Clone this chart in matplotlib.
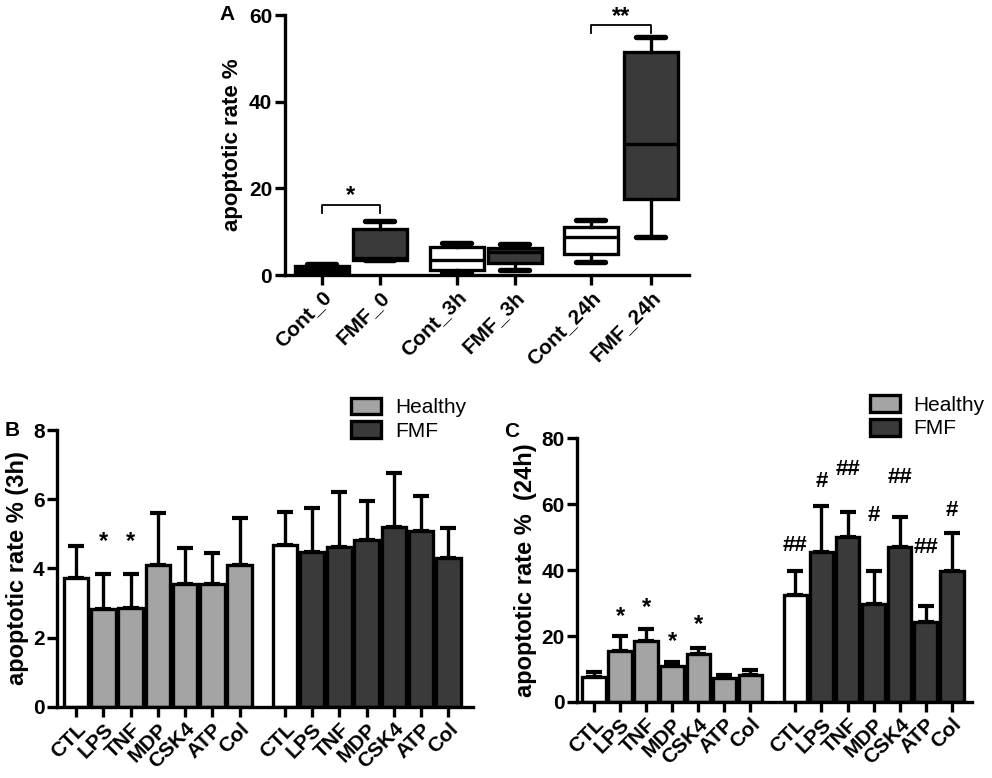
import matplotlib
matplotlib.use("Agg")
import matplotlib.pyplot as plt
from matplotlib.patches import Patch
import numpy as np

plt.rcParams['font.family'] = ['Liberation Sans', 'DejaVu Sans']

# ---------------- data ----------------
box_labels = ["Cont_0", "FMF_0", "Cont_3h", "FMF_3h", "Cont_24h", "FMF_24h"]
box_whislo = [0.5, 3.5, 0.8, 1.2, 3.1, 8.7]
box_q1 = [0.8, 3.5, 1.1, 2.8, 4.8, 17.5]
box_med = [1.4, 4.0, 3.4, 5.3, 8.7, 30.2]
box_q3 = [2.0, 10.6, 6.5, 6.3, 11.2, 51.5]
box_whishi = [2.5, 12.5, 7.5, 7.1, 12.7, 55.0]

treatments = ["CTL", "LPS", "TNF", "MDP", "CSK4", "ATP", "Col"]

b_healthy_mean = [3.73, 2.82, 2.87, 4.10, 3.54, 3.55, 4.10]
b_healthy_sem = [0.93, 1.03, 0.98, 1.50, 1.06, 0.90, 1.37]
b_fmf_mean = [4.68, 4.48, 4.62, 4.83, 5.20, 5.09, 4.30]
b_fmf_sem = [0.96, 1.28, 1.60, 1.12, 1.57, 1.00, 0.88]
b_healthy_sig = ["", "*", "*", "", "", "", ""]

c_healthy_mean = [7.6, 15.6, 18.4, 10.8, 14.5, 7.4, 8.2]
c_healthy_sem = [1.5, 4.4, 3.6, 1.4, 1.8, 0.9, 1.5]
c_fmf_mean = [32.4, 45.6, 50.1, 29.6, 46.9, 24.3, 39.6]
c_fmf_sem = [7.2, 13.8, 7.5, 10.0, 9.2, 4.8, 11.8]
c_healthy_sig = ["", "*", "*", "*", "*", "", ""]
c_fmf_sig = ["##", "#", "##", "#", "##", "##", "#"]

# ---------------- style ----------------
WHITE = "#ffffff"
GRAY = "#a4a4a4"
DARK = "#3a3a3a"
LW = 2.4
TICKFS = 15
XTICKFS = 15

fig = plt.figure(figsize=(9.92, 7.78), dpi=100)
fig.patch.set_facecolor("white")


def style_axes(ax):
    for s in ["top", "right"]:
        ax.spines[s].set_visible(False)
    for s in ["left", "bottom"]:
        ax.spines[s].set_linewidth(LW)
    ax.tick_params(axis="both", direction="out", length=7, width=LW,
                   labelsize=TICKFS, pad=2)
    for lab in ax.get_yticklabels():
        lab.set_fontweight("bold")


# ---------------- Panel A ----------------
axA = fig.add_axes([0.287, 0.6465, 0.408, 0.334])
posA = [1, 2, 3.33, 4.33, 5.64, 6.67]
stats = []
for i, lab in enumerate(box_labels):
    stats.append(dict(label=lab, whislo=box_whislo[i], q1=box_q1[i],
                      med=box_med[i], q3=box_q3[i], whishi=box_whishi[i],
                      fliers=[]))
bp = axA.bxp(stats, positions=posA, widths=0.93, capwidths=0.5,
             patch_artist=True, showfliers=False,
             boxprops=dict(linewidth=LW, edgecolor="black"),
             medianprops=dict(linewidth=LW, color="black"),
             whiskerprops=dict(linewidth=LW, color="black"),
             capprops=dict(linewidth=LW + 1.5, color="black", solid_capstyle="round"))
for i, patch in enumerate(bp["boxes"]):
    patch.set_facecolor(WHITE if box_labels[i].startswith("Cont") else DARK)
axA.set_xlim(0.36, 7.34)
axA.set_ylim(0, 60)
axA.set_yticks([0, 20, 40, 60])
style_axes(axA)
axA.set_xticks(posA)
axA.set_xticklabels(box_labels, rotation=45, ha="right", va="top",
                    rotation_mode="anchor", fontweight="bold", fontsize=XTICKFS)
axA.set_ylabel("apoptotic rate %", fontsize=16, fontweight="bold", labelpad=4)

# significance brackets
def bracket(ax, x1, x2, y, leg, txt, ty):
    ax.plot([x1, x1, x2, x2], [y - leg, y, y, y - leg], color="black",
            lw=1.3, clip_on=False)
    ax.text((x1 + x2) / 2, ty, txt, ha="center", va="center",
            fontsize=17, fontweight="bold", clip_on=False)

bracket(axA, posA[0], posA[1], 16.2, 1.9, "*", 18.3)
bracket(axA, posA[4], posA[5], 57.7, 1.8, "**", 59.8)
fig.text(0.229, 0.981, "A", fontsize=15, fontweight="bold", ha="center", va="center")


# ---------------- bar panels ----------------
def bar_panel(ax, h_mean, h_sem, f_mean, f_sem, offset, xlim, ylim, yticks,
              ylabel, light, dark):
    xh = np.arange(len(treatments), dtype=float)
    xf = xh + offset
    hcols = [WHITE] + [light] * (len(treatments) - 1)
    fcols = [WHITE] + [dark] * (len(treatments) - 1)
    for x, m, s, cols in [(xh, h_mean, h_sem, hcols), (xf, f_mean, f_sem, fcols)]:
        ax.errorbar(x, m, yerr=[np.zeros(len(m)), s], fmt="none", ecolor="black",
                    elinewidth=LW, capsize=6, capthick=LW + 0.6, zorder=1)
        ax.bar(x, m, width=0.9, color=cols, edgecolor="black", linewidth=LW,
               zorder=2)
    ax.set_xlim(*xlim)
    ax.set_ylim(*ylim)
    ax.set_yticks(yticks)
    style_axes(ax)
    ax.set_xticks(np.concatenate([xh, xf]))
    ax.set_xticklabels(treatments + treatments, rotation=45, ha="right",
                       va="top", rotation_mode="anchor", fontweight="bold",
                       fontsize=XTICKFS)
    ax.set_ylabel(ylabel, fontsize=17, fontweight="bold", labelpad=3)
    return xh, xf


axB = fig.add_axes([0.0575, 0.0913, 0.419, 0.356])
xhB, xfB = bar_panel(axB, b_healthy_mean, b_healthy_sem, b_fmf_mean, b_fmf_sem,
                     7.65, (-0.7, 14.54), (0, 8), [0, 2, 4, 6, 8],
                     "apoptotic rate % (3h)", GRAY, DARK)
for i, s in enumerate(b_healthy_sig):
    if s:
        axB.text(xhB[i], 4.78, s, ha="center", va="center", fontsize=17,
                 fontweight="bold")

axC = fig.add_axes([0.5817, 0.0977, 0.398, 0.339])
xhC, xfC = bar_panel(axC, c_healthy_mean, c_healthy_sem, c_fmf_mean, c_fmf_sem,
                     7.73, (-0.65, 14.5), (0, 80), [0, 20, 40, 60, 80],
                     "apoptotic rate %  (24h)", GRAY, DARK)
star_y_C = [0, 26.0, 28.6, 18.4, 23.5, 0, 0]
for i, s in enumerate(c_healthy_sig):
    if s:
        axC.text(xhC[i], star_y_C[i], s, ha="center", va="center", fontsize=17,
                 fontweight="bold")
hash_y_C = [47.6, 67.0, 70.4, 56.5, 68.0, 46.8, 58.0]
for i, s in enumerate(c_fmf_sig):
    axC.text(xfC[i], hash_y_C[i], s, ha="center", va="center", fontsize=16,
             fontweight="bold", clip_on=False)

# legends
for ax, (lx, ly) in [(axB, (0.354, 0.489)), (axC, (0.877, 0.492))]:
    handles = [Patch(facecolor=GRAY, edgecolor="black", linewidth=LW, label="Healthy"),
               Patch(facecolor=DARK, edgecolor="black", linewidth=LW, label="FMF")]
    ax.legend(handles=handles, loc="upper left", bbox_to_anchor=(lx, ly),
              bbox_transform=fig.transFigure, frameon=False, fontsize=15,
              handlelength=1.45, handleheight=0.85, handletextpad=0.65,
              labelspacing=0.2, borderpad=0, borderaxespad=0)

fig.text(0.012, 0.447, "B", fontsize=15, fontweight="bold", ha="center", va="center")
fig.text(0.516, 0.445, "C", fontsize=15, fontweight="bold", ha="center", va="center")

fig.savefig("out.png", dpi=100, facecolor="white")
